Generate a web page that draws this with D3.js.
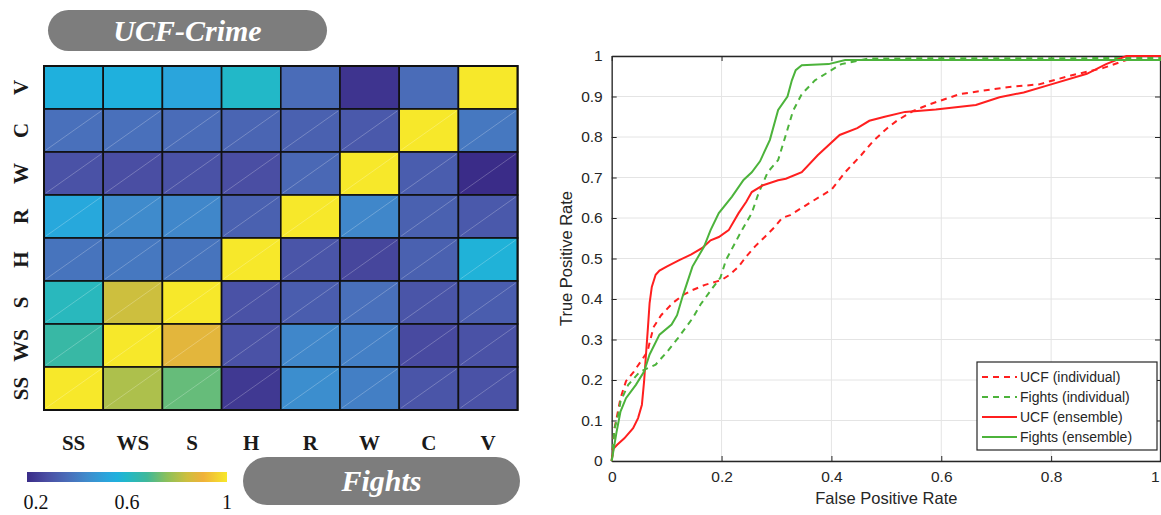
<!DOCTYPE html>
<html>
<head>
<meta charset="utf-8">
<script src="https://cdn.jsdelivr.net/npm/d3@7"></script>
<style>
  html, body { margin: 0; padding: 0; background: #fff; }
  svg { display: block; }
</style>
</head>
<body>
<div id="chart"></div>
<script>
// heatmap categories (columns left -> right, rows top -> bottom)
var colCats = ['SS', 'WS', 'S', 'H', 'R', 'W', 'C', 'V'];
var rowCats = ['V', 'C', 'W', 'R', 'H', 'S', 'WS', 'SS'];

// similarity values, one array per row (same order as rowCats)
var rowV  = [0.56, 0.56, 0.52, 0.60, 0.36, 0.22, 0.36, 1.00];
var rowC  = [0.37, 0.37, 0.36, 0.34, 0.33, 0.31, 1.00, 0.39];
var rowW  = [0.29, 0.28, 0.29, 0.28, 0.35, 1.00, 0.32, 0.20];
var rowR  = [0.53, 0.44, 0.43, 0.33, 1.00, 0.43, 0.33, 0.31];
var rowH  = [0.38, 0.39, 0.38, 1.00, 0.30, 0.26, 0.33, 0.57];
var rowS  = [0.62, 0.84, 1.00, 0.29, 0.32, 0.37, 0.30, 0.32];
var rowWS = [0.66, 1.00, 0.88, 0.29, 0.43, 0.41, 0.27, 0.29];
var rowSS = [1.00, 0.80, 0.72, 0.23, 0.45, 0.41, 0.30, 0.29];
var matrix = [rowV, rowC, rowW, rowR, rowH, rowS, rowWS, rowSS];

var colorbarTicks = [0.2, 0.6, 1];

// ROC curves [fpr, tpr]
var ucfIndividual = [[0,0],[0.005,0.08],[0.009,0.106],[0.016,0.155],[0.026,0.197],[0.04,0.22],[0.055,0.25],[0.065,0.27],[0.076,0.33],[0.09,0.36],[0.111,0.39],[0.13,0.41],[0.147,0.422],[0.17,0.435],[0.19,0.443],[0.2,0.447],[0.215,0.46],[0.231,0.48],[0.245,0.505],[0.261,0.53],[0.28,0.555],[0.297,0.578],[0.31,0.6],[0.325,0.607],[0.36,0.637],[0.4,0.67],[0.425,0.713],[0.454,0.755],[0.476,0.79],[0.5,0.82],[0.519,0.84],[0.548,0.864],[0.577,0.88],[0.634,0.906],[0.72,0.923],[0.778,0.93],[0.836,0.952],[0.894,0.97],[0.937,0.99],[0.95,1],[1,1]];
var fightsIndividual = [[0,0],[0.005,0.08],[0.012,0.114],[0.016,0.147],[0.03,0.188],[0.051,0.22],[0.08,0.238],[0.101,0.27],[0.121,0.304],[0.148,0.354],[0.162,0.387],[0.184,0.428],[0.198,0.453],[0.208,0.496],[0.237,0.57],[0.255,0.612],[0.267,0.66],[0.284,0.713],[0.303,0.743],[0.317,0.805],[0.33,0.864],[0.346,0.906],[0.37,0.94],[0.4,0.965],[0.418,0.98],[0.468,0.994],[1,0.995]];
var ucfEnsemble = [[0,0],[0.003,0.03],[0.01,0.04],[0.023,0.056],[0.039,0.081],[0.048,0.106],[0.055,0.139],[0.059,0.197],[0.062,0.255],[0.066,0.33],[0.069,0.39],[0.073,0.43],[0.08,0.46],[0.087,0.47],[0.1,0.48],[0.123,0.496],[0.145,0.51],[0.165,0.526],[0.18,0.545],[0.195,0.553],[0.213,0.57],[0.231,0.612],[0.245,0.64],[0.255,0.664],[0.274,0.68],[0.303,0.693],[0.317,0.697],[0.346,0.713],[0.375,0.755],[0.415,0.805],[0.447,0.822],[0.469,0.84],[0.497,0.85],[0.534,0.862],[0.59,0.868],[0.663,0.879],[0.706,0.898],[0.75,0.91],[0.8,0.93],[0.865,0.956],[0.9,0.98],[0.937,1],[1,1]];
var fightsEnsemble = [[0,0],[0.009,0.073],[0.016,0.122],[0.026,0.155],[0.044,0.188],[0.059,0.221],[0.069,0.263],[0.087,0.312],[0.109,0.337],[0.119,0.36],[0.129,0.406],[0.147,0.48],[0.168,0.529],[0.18,0.57],[0.195,0.612],[0.219,0.653],[0.24,0.694],[0.255,0.713],[0.27,0.74],[0.288,0.793],[0.303,0.867],[0.32,0.9],[0.328,0.94],[0.335,0.965],[0.346,0.977],[0.395,0.98],[0.425,0.99],[1,0.99]];

var seriesNames = ['UCF (individual)', 'Fights (individual)', 'UCF (ensemble)', 'Fights (ensemble)'];
var xTicks = [0, 0.2, 0.4, 0.6, 0.8, 1];
var yTicks = [0, 0.1, 0.2, 0.3, 0.4, 0.5, 0.6, 0.7, 0.8, 0.9, 1];

var W = 1161, H = 515;
var svg = d3.select('#chart').append('svg').attr('width', W).attr('height', H);

var serif = '"Liberation Serif", "DejaVu Serif", serif';
var sans = '"Liberation Sans", Arial, sans-serif';

// parula-like colour scale
var stopT = [0, 0.1, 0.2, 0.3, 0.4, 0.45, 0.5, 0.6, 0.7, 0.8, 0.88, 1];
var stopC = ['#3a2c88', '#4a4ea3', '#4a6cb8', '#3f8bcc', '#2aa5dc', '#1fb0dd', '#22b8c8', '#3fb89a', '#8cc05a', '#cdbf3e', '#f0b13a', '#f7e82a'];
var color = d3.scaleLinear()
    .domain(stopT.map((t) => 0.2 + 0.8 * t))
    .range(stopC)
    .clamp(true);

// heatmap
{
  let x = d3.scaleBand().domain(colCats).range([44, 44 + 8 * 59.2]);
  let y = d3.scaleBand().domain(rowCats).range([66, 66 + 8 * 43]);

  let cells = [];
  matrix.forEach((row, i) => row.forEach((v, j) => cells.push({ r: rowCats[i], c: colCats[j], v: v })));

  let g = svg.append('g');

  g.selectAll('rect.cell')
    .data(cells)
    .enter().append('rect')
    .attr('class', 'cell')
    .attr('x', (d) => x(d.c))
    .attr('y', (d) => y(d.r))
    .attr('width', x.bandwidth())
    .attr('height', y.bandwidth())
    .attr('fill', (d) => color(d.v))
    .attr('stroke', '#111')
    .attr('stroke-width', 1.6);

  // faint diagonal artefacts in the cells
  g.selectAll('line.diag')
    .data(cells.filter((d) => d.r !== 'V'))
    .enter().append('line')
    .attr('x1', (d) => x(d.c) + 2)
    .attr('y1', (d) => y(d.r) + y.bandwidth() - 2)
    .attr('x2', (d) => x(d.c) + x.bandwidth() - 2)
    .attr('y2', (d) => y(d.r) + 2)
    .attr('stroke', '#fff')
    .attr('stroke-opacity', 0.3)
    .attr('stroke-width', 0.8);

  g.append('rect')
    .attr('x', 44).attr('y', 66)
    .attr('width', 8 * 59.2).attr('height', 8 * 43)
    .attr('fill', 'none').attr('stroke', '#111').attr('stroke-width', 2);

  g.selectAll('text.col')
    .data(colCats)
    .enter().append('text')
    .attr('x', (d) => x(d) + x.bandwidth() / 2)
    .attr('y', 450)
    .attr('text-anchor', 'middle')
    .attr('font-family', serif)
    .attr('font-size', 21)
    .attr('font-weight', 'bold')
    .attr('fill', '#1a1a1a')
    .text((d) => d);

  g.selectAll('text.row')
    .data(rowCats)
    .enter().append('text')
    .attr('transform', (d) => `translate(28, ${ y(d) + y.bandwidth() / 2 }) rotate(-90)`)
    .attr('text-anchor', 'middle')
    .attr('font-family', serif)
    .attr('font-size', 21)
    .attr('font-weight', 'bold')
    .attr('fill', '#1a1a1a')
    .text((d) => d);

  // colorbar
  let cb = d3.scaleLinear().domain([0.2, 1]).range([27, 227]);
  let grad = svg.append('defs').append('linearGradient').attr('id', 'cbar');
  stopT.forEach((t, i) => grad.append('stop').attr('offset', `${ t * 100 }%`).attr('stop-color', stopC[i]));

  svg.append('rect')
    .attr('x', cb(0.2)).attr('y', 472)
    .attr('width', cb(1) - cb(0.2)).attr('height', 10)
    .attr('fill', 'url(#cbar)');

  svg.selectAll('text.cb')
    .data(colorbarTicks)
    .enter().append('text')
    .attr('x', (d, i) => cb(d) + (i === 0 ? 9 : 0))
    .attr('y', 509)
    .attr('text-anchor', 'middle')
    .attr('font-family', serif)
    .attr('font-size', 20)
    .attr('fill', '#111')
    .text((d) => d);

  // dataset badges
  let badge = (x0, y0, w, h, label) => {
    svg.append('rect')
      .attr('x', x0).attr('y', y0).attr('width', w).attr('height', h)
      .attr('rx', h / 2).attr('ry', h / 2)
      .attr('fill', '#7d7d7d');
    svg.append('text')
      .attr('x', x0 + w / 2).attr('y', y0 + h / 2 + 10)
      .attr('text-anchor', 'middle')
      .attr('font-family', serif)
      .attr('font-style', 'italic')
      .attr('font-weight', 'bold')
      .attr('font-size', 30)
      .attr('fill', '#fff')
      .text(label);
  };
  badge(48, 10, 279, 41, 'UCF-Crime');
  badge(243, 457, 277, 48, 'Fights');
}

// ROC plot
{
  let x = d3.scaleLinear().domain([0, 1]).range([611.7, 1161]);
  let y = d3.scaleLinear().domain([0, 1]).range([461, 56]);

  let g = svg.append('g');

  g.selectAll('line.gx')
    .data(xTicks)
    .enter().append('line')
    .attr('x1', (d) => x(d)).attr('x2', (d) => x(d))
    .attr('y1', y(0)).attr('y2', y(1))
    .attr('stroke', '#e4e4e4').attr('stroke-width', 1);

  g.selectAll('line.gy')
    .data(yTicks)
    .enter().append('line')
    .attr('x1', x(0)).attr('x2', x(1))
    .attr('y1', (d) => y(d)).attr('y2', (d) => y(d))
    .attr('stroke', '#e4e4e4').attr('stroke-width', 1);

  // box axes with inward ticks
  let axisStyle = (sel) => {
    sel.select('.domain').attr('stroke', '#262626').attr('stroke-width', 1.3);
    sel.selectAll('.tick line').attr('stroke', '#262626');
    sel.selectAll('.tick text').attr('font-family', sans).attr('font-size', 15.5).attr('fill', '#262626');
  };

  let xAxis = g.append('g')
    .attr('transform', `translate(0, ${ y(0) })`)
    .call(d3.axisBottom(x).tickValues(xTicks).tickSize(-5).tickSizeOuter(0).tickPadding(10).tickFormat(d3.format('~g')))
    .call(axisStyle);

  // the last label sits at the window edge: keep it inside
  xAxis.selectAll('.tick text').filter((d) => d === 1).attr('text-anchor', 'end').attr('dx', -2);

  g.append('g')
    .attr('transform', `translate(0, ${ y(1) })`)
    .call(d3.axisTop(x).tickValues(xTicks).tickSize(-5).tickSizeOuter(0).tickFormat(''))
    .call(axisStyle);

  g.append('g')
    .attr('transform', `translate(${ x(0) }, 0)`)
    .call(d3.axisLeft(y).tickValues(yTicks).tickSize(-5).tickSizeOuter(0).tickPadding(9).tickFormat(d3.format('~g')))
    .call(axisStyle);

  g.append('g')
    .attr('transform', `translate(${ x(1) - 1 }, 0)`)
    .call(d3.axisRight(y).tickValues(yTicks).tickSize(-5).tickSizeOuter(0).tickFormat(''))
    .call(axisStyle);

  g.append('text')
    .attr('x', x(0.5)).attr('y', 504)
    .attr('text-anchor', 'middle')
    .attr('font-family', sans).attr('font-size', 16.5).attr('fill', '#262626')
    .text('False Positive Rate');

  g.append('text')
    .attr('transform', `translate(572, ${ y(0.5) }) rotate(-90)`)
    .attr('text-anchor', 'middle')
    .attr('font-family', sans).attr('font-size', 16.5).attr('fill', '#262626')
    .text('True Positive Rate');

  let line = d3.line().x((d) => x(d[0])).y((d) => y(d[1]));

  let series = [
    { data: ucfIndividual, color: '#ff1f1f', dash: '6,5' },
    { data: fightsIndividual, color: '#4cb33b', dash: '6,5' },
    { data: ucfEnsemble, color: '#ff1f1f', dash: null },
    { data: fightsEnsemble, color: '#4cb33b', dash: null }
  ];

  g.selectAll('path.roc')
    .data(series)
    .enter().append('path')
    .attr('class', 'roc')
    .attr('d', (d) => line(d.data))
    .attr('fill', 'none')
    .attr('stroke', (d) => d.color)
    .attr('stroke-width', 2)
    .attr('stroke-dasharray', (d) => d.dash);

  // legend
  let lg = g.append('g');
  lg.append('rect')
    .attr('x', 977).attr('y', 362).attr('width', 180).attr('height', 88)
    .attr('fill', '#fff').attr('stroke', '#262626').attr('stroke-width', 1.2);

  let ly = d3.scalePoint().domain(seriesNames).range([377, 437]);

  lg.selectAll('line.lk')
    .data(series)
    .enter().append('line')
    .attr('x1', 982).attr('x2', 1017)
    .attr('y1', (d, i) => ly(seriesNames[i])).attr('y2', (d, i) => ly(seriesNames[i]))
    .attr('stroke', (d) => d.color)
    .attr('stroke-width', 2)
    .attr('stroke-dasharray', (d) => d.dash);

  lg.selectAll('text.lt')
    .data(seriesNames)
    .enter().append('text')
    .attr('x', 1020)
    .attr('y', (d) => ly(d) + 5)
    .attr('font-family', sans).attr('font-size', 14).attr('fill', '#262626')
    .text((d) => d);
}
</script>
</body>
</html>
